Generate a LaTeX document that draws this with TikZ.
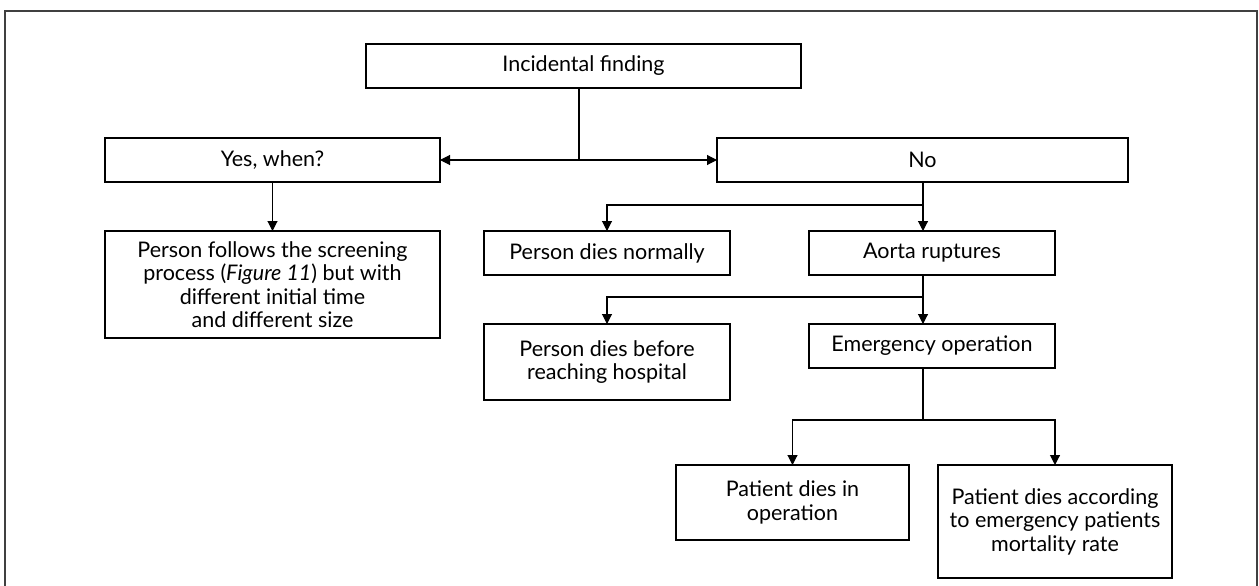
\documentclass[tikz,border=0pt]{standalone}
\usepackage{fontspec}
\setmainfont{Lato}
\usetikzlibrary{arrows.meta}
\begin{document}
\begin{tikzpicture}[x=1pt,y=-1pt,
  box/.style={draw, line width=1.1pt, inner sep=0pt, outer sep=0pt, align=center,
    font=\fontsize{21.5}{23.5}\selectfont},
  conn/.style={line width=1.1pt},
  arr/.style={conn, -{Triangle[length=10pt,width=10pt]}},
  frame/.style={line width=1.4pt, draw=black!75}]
\useasboundingbox (0,0) rectangle (1259,586);
\draw[frame] (5,590) -- (5,11) -- (1257,11) -- (1257,590);

\node[box, minimum width=435pt, minimum height=44pt] (inc) at (583.5,66) {Incidental finding};
\node[box, minimum width=335pt, minimum height=44pt] (yes) at (272.5,160) {Yes, when?};
\node[box, minimum width=411pt, minimum height=44pt] (no) at (922.5,160) {No};
\node[box, minimum width=335pt, minimum height=107pt] (follow) at (272.5,284.5)
  {Person follows the screening\\process (\textit{Figure 11}) but with\\different initial time\\and different size};
\node[box, minimum width=246pt, minimum height=44pt] (normal) at (607,253) {Person dies normally};
\node[box, minimum width=246pt, minimum height=44pt] (aorta) at (932,253) {Aorta ruptures};
\node[box, minimum width=246pt, minimum height=76pt] (before) at (607,362) {Person dies before\\reaching hospital};
\node[box, minimum width=246pt, minimum height=44pt] (emerg) at (932,346) {Emergency operation};
\node[box, minimum width=233pt, minimum height=75pt] (opdie) at (792.5,502.5) {Patient dies in\\operation};
\node[box, minimum width=234pt, minimum height=113pt] (mort) at (1055,521.5) {Patient dies according\\to emergency patients\\mortality rate};

\coordinate (j1) at (579,160);
\coordinate (b1) at (923,205);
\coordinate (b2) at (923,297);
\coordinate (b3) at (923,420);

\draw[conn] (inc.south -| j1) -- (j1);
\draw[arr] (j1) -- (yes.east);
\draw[arr] (j1) -- (no.west);
\draw[arr] (yes.south) -- (follow.north);
\draw[arr] (no.south -| b1) -- (b1 |- aorta.north);
\draw[arr] (b1) -| (normal.north);
\draw[arr] (aorta.south -| b2) -- (b2 |- emerg.north);
\draw[arr] (b2) -| (before.north);
\draw[conn] (emerg.south -| b3) -- (b3);
\draw[arr] (b3) -| (opdie.north);
\draw[arr] (b3) -| (mort.north);
\end{tikzpicture}
\end{document}
